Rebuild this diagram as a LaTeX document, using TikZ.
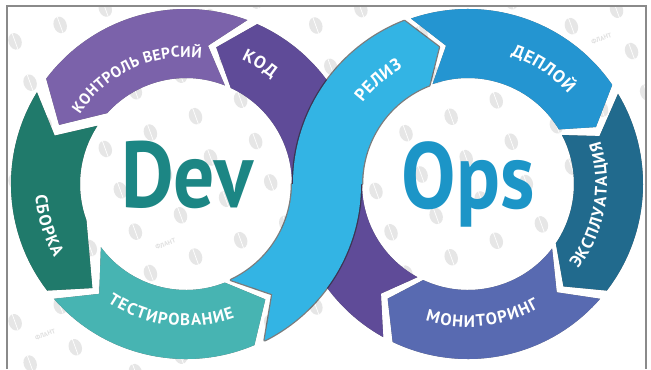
\documentclass[tikz,border=0pt]{standalone}
\usepackage{fontspec}
\setmainfont{PT Sans}
\usetikzlibrary{calc,decorations.text,shapes.geometric}

\definecolor{cKod}{HTML}{5F4B98}
\definecolor{cVcs}{HTML}{7B62AA}
\definecolor{cBuild}{HTML}{207A6B}
\definecolor{cTest}{HTML}{47B4B2}
\definecolor{cRel}{HTML}{33B4E4}
\definecolor{cDep}{HTML}{2495D1}
\definecolor{cExp}{HTML}{216A8D}
\definecolor{cMon}{HTML}{586AB1}
\definecolor{cDev}{HTML}{1C8684}
\definecolor{cOpsTxt}{HTML}{1C95C7}
\definecolor{wmText}{HTML}{E0E0E0}
\definecolor{wmLogo}{HTML}{E6E6E6}
\definecolor{frameGray}{HTML}{8A8A8A}

% ring radii: outer, middle, inner
\newcommand\RingOut{175}
\newcommand\RingMid{140}
\newcommand\RingIn{106}
% label fonts; the leading kern spaces the letters a little
\newcommand\lblfont{\bfseries\fontsize{17.5}{18}\selectfont\kern0.6pt}
\newcommand\lblinfont{\bfseries\fontsize{16.8}{18}\selectfont\kern1.2pt}
\newcommand\lblsmallfont{\bfseries\fontsize{15.5}{16}\selectfont\kern0.4pt}

% chevron-shaped ring segment:
% #1 centre, #2 fill colour, #3-#5 tail (outer, tip, inner), #6-#8 head (outer, tip, inner)
\newcommand\ringseg[8]{%
  \fill[black!80, opacity=.75, shift={(1,1.6)}]
    ($(#1)+(#3:\RingOut)$) arc[start angle=#3, end angle=#6, radius=\RingOut]
    -- ($(#1)+(#7:\RingMid)$) -- ($(#1)+(#8:\RingIn)$)
    arc[start angle=#8, end angle=#5, radius=\RingIn]
    -- ($(#1)+(#4:\RingMid)$) -- cycle;
  \fill[#2]
    ($(#1)+(#3:\RingOut)$) arc[start angle=#3, end angle=#6, radius=\RingOut]
    -- ($(#1)+(#7:\RingMid)$) -- ($(#1)+(#8:\RingIn)$)
    arc[start angle=#8, end angle=#5, radius=\RingIn]
    -- ($(#1)+(#4:\RingMid)$) -- cycle;
}

\tikzset{
  lbl/.style={decorate, decoration={text along path, text align=center,
      text color=white, text={|\lblfont|#1}}},
  lblin/.style={decorate, decoration={text along path, text align=center,
      text color=white, text={|\lblinfont|#1}}},
  lblsmall/.style={decorate, decoration={text along path, text align=center,
      text color=white, text={|\lblsmallfont|#1}}},
  wmtext/.style={font=\bfseries\fontsize{6.5}{7}\selectfont, text=wmText,
      rotate=20, inner sep=0pt},
  wmlogo/.style={ellipse, fill=wmLogo, minimum width=13, minimum height=17,
      inner sep=0pt, rotate=20},
  bigword/.style={font=\bfseries\fontsize{94}{94}\selectfont, anchor=base,
      inner sep=0pt},
}

\begin{document}
\begin{tikzpicture}[x=1bp, y=-1bp]
\useasboundingbox (0,0) rectangle (651,369);
\fill[white] (0,0) rectangle (651,369);

% background watermark: rows of logos alternating with rows of the word
\begin{scope}
  \clip (7,6) rectangle (646,369);
  \foreach \i in {-6,...,14}{
    \foreach \j in {-4,0,...,36}{
      \pgfmathsetmacro\wx{\i*48*cos(20)+\j*11*sin(20)}
      \pgfmathsetmacro\wy{-\i*48*sin(20)+\j*11*cos(20)}
      \node[wmlogo] (wl\i-\j) at (\wx,\wy) {};
      \draw[white, line width=0.7pt] (wl\i-\j.north) -- (wl\i-\j.south);
    }
  }
\end{scope}
\foreach \i in {-6,...,14}{
  \foreach \j in {-2,2,...,34}{
    \pgfmathsetmacro\wx{(\i+0.5)*48*cos(20)+\j*11*sin(20)}
    \pgfmathsetmacro\wy{-(\i+0.5)*48*sin(20)+\j*11*cos(20)}
    \pgfmathsetmacro\dl{veclen(\wx-186,\wy-184)}
    \pgfmathsetmacro\dr{veclen(\wx-468,\wy-184)}
    \pgfmathtruncatemacro\showit{and(and(\wx>24,\wx<629),and(\wy>16,\wy<358))
      *or(and(\dl>192,\dr>192),or(\dl<86,\dr<86))
      *not(or(and(and(\wx>95,\wx<280),and(\wy>100,\wy<242)),
              and(and(\wx>382,\wx<555),and(\wy>100,\wy<258))))}
    \ifnum\showit=1
      \node[wmtext] (wt\i-\j) at (\wx,\wy) {ФЛАНТ};
    \fi
  }
}

% frame
\draw[frameGray, line width=1.3pt] (7,369) -- (7,6) -- (646,6) -- (646,369);

\coordinate (L) at (186,184);
\coordinate (R) at (468,184);

% left ring (flow runs with decreasing angle)
\ringseg{L}{cVcs}{290.5}{279}{291.5}{217}{205}{222}
\ringseg{L}{cBuild}{211.6}{200.2}{213.3}{142.5}{132}{160}
\ringseg{L}{cTest}{139}{128.3}{143.4}{67}{55.5}{68.5}

% right ring (flow runs with increasing angle)
\ringseg{R}{cDep}{251}{261}{250.5}{325.5}{336}{329}
\ringseg{R}{cExp}{329}{340}{332.5}{397.5}{407}{394}
\ringseg{R}{cMon}{401}{410.7}{397.5}{475.5}{485}{475}

% code band: from the bottom of the right ring over to the top of the left ring
\fill[black!80, opacity=.75, shift={(1,1.6)}]
  ($(R)+(479:\RingOut)$) arc[start angle=479, end angle=540, radius=\RingOut]
  -- ($(L)+(360:\RingIn)$) arc[start angle=360, end angle=295, radius=\RingIn]
  -- ($(L)+(282.5:\RingMid)$) -- ($(L)+(294:\RingOut)$)
  arc[start angle=294, end angle=360, radius=\RingOut]
  -- ($(R)+(540:\RingIn)$) arc[start angle=540, end angle=478.5, radius=\RingIn]
  -- ($(R)+(488.5:\RingMid)$) -- cycle;
\fill[cKod]
  ($(R)+(479:\RingOut)$) arc[start angle=479, end angle=540, radius=\RingOut]
  -- ($(L)+(360:\RingIn)$) arc[start angle=360, end angle=295, radius=\RingIn]
  -- ($(L)+(282.5:\RingMid)$) -- ($(L)+(294:\RingOut)$)
  arc[start angle=294, end angle=360, radius=\RingOut]
  -- ($(R)+(540:\RingIn)$) arc[start angle=540, end angle=478.5, radius=\RingIn]
  -- ($(R)+(488.5:\RingMid)$) -- cycle;

% release band: from the bottom of the left ring over to the top of the right ring
\draw[black!85, opacity=.6, line width=2.6pt, line join=round]
  ($(L)+(63.3:\RingOut)$) arc[start angle=63.3, end angle=0, radius=\RingOut]
  -- ($(R)+(180:\RingIn)$) arc[start angle=180, end angle=248.6, radius=\RingIn]
  -- ($(R)+(258:\RingMid)$) -- ($(R)+(248.7:\RingOut)$)
  arc[start angle=248.7, end angle=180, radius=\RingOut]
  -- ($(L)+(0:\RingIn)$) arc[start angle=0, end angle=64.9, radius=\RingIn]
  -- ($(L)+(51.9:\RingMid)$) -- cycle;
\fill[cRel]
  ($(L)+(63.3:\RingOut)$) arc[start angle=63.3, end angle=0, radius=\RingOut]
  -- ($(R)+(180:\RingIn)$) arc[start angle=180, end angle=248.6, radius=\RingIn]
  -- ($(R)+(258:\RingMid)$) -- ($(R)+(248.7:\RingOut)$)
  arc[start angle=248.7, end angle=180, radius=\RingOut]
  -- ($(L)+(0:\RingIn)$) arc[start angle=0, end angle=64.9, radius=\RingIn]
  -- ($(L)+(51.9:\RingMid)$) -- cycle;

% stage labels along the rings
\path[lblsmall={КОНТРОЛЬ ВЕРСИЙ}] ($(L)+(190:127)$) arc[start angle=190, end angle=300, radius=127];
\path[lbl={КОД}] ($(L)+(284:136)$) arc[start angle=284, end angle=319, radius=136];
\path[lblin={СБОРКА}] ($(L)+(198:151)$) arc[start angle=198, end angle=129, radius=151];
\path[lblin={ТЕСТИРОВАНИЕ}] ($(L)+(140:142)$) arc[start angle=140, end angle=54, radius=142];
\path[lbl={РЕЛИЗ}] ($(R)+(206:133)$) arc[start angle=206, end angle=252, radius=133];
\path[lbl={ДЕПЛОЙ}] ($(R)+(276:135)$) arc[start angle=276, end angle=330, radius=135];
\path[lblin={ЭКСПЛУАТАЦИЯ}] ($(R)+(58:139)$) arc[start angle=58, end angle=-38, radius=139];
\path[lblin={МОНИТОРИНГ}] ($(R)+(124:143)$) arc[start angle=124, end angle=44, radius=143];

% centre words
\node[bigword, text=cDev, xscale=0.87] (dev) at (187,207) {Dev};
\node[bigword, text=cOpsTxt, xscale=0.87] (ops) at (468,208) {Ops};
\end{tikzpicture}
\end{document}
